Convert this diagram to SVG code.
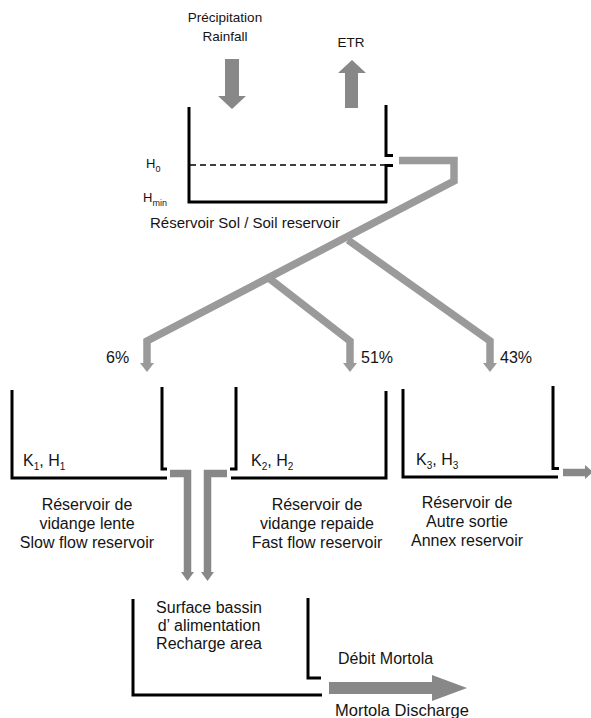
<svg xmlns="http://www.w3.org/2000/svg" width="591" height="718" viewBox="0 0 591 718">
<style>
text{font-family:"Liberation Sans",Arial,sans-serif;fill:#141414;}
.t{font-size:16px;}
.ti{font-size:15px;}
.s{font-size:13.5px;}
.h{font-size:13px;}
.sub{font-size:9px;}
.ksub{font-size:10px;}
.wall{fill:none;stroke:#000;stroke-width:3;stroke-linecap:butt;stroke-linejoin:miter;}
.flow{fill:none;stroke:#9a9a9a;stroke-width:7.5;stroke-linejoin:miter;}
.head{fill:#9a9a9a;}
.dflow{fill:none;stroke:#888;stroke-width:7.5;stroke-linejoin:miter;}
.dhead{fill:#888;}
</style>
<rect width="591" height="718" fill="#fff"/>

<g id="inputs">
<text class="s" x="225" y="22" text-anchor="middle">Précipitation</text>
<text class="s" x="225" y="41" text-anchor="middle">Rainfall</text>
<polygon class="dhead" points="225,59 239,59 239,96 246,96 232,109 218,96 225,96"/>
<text class="s" x="351" y="47" text-anchor="middle">ETR</text>
<polygon class="dhead" points="345,108 358,108 358,73 366,73 352,60 338,73 345,73"/>
</g>

<g id="soil-reservoir">
<path class="wall" d="M189,107 V202 H387"/>
<path class="wall" d="M386,105 V155.5 H393"/>
<path class="wall" d="M393,165.5 H386 V203"/>
<line x1="190" y1="165" x2="385" y2="165" stroke="#000" stroke-width="1.5" stroke-dasharray="6,4"/>
<text class="h" x="146" y="168">H<tspan class="sub" dy="4">0</tspan></text>
<text class="h" x="143" y="202">H<tspan class="sub" dy="4">min</tspan></text>
<text class="ti" x="245" y="228" text-anchor="middle">Réservoir Sol / Soil reservoir</text>
</g>

<g id="connectors">
<path class="flow" d="M399,160.5 H454 V181 L147,341 V364"/>
<polygon class="head" points="140,363 154,363 147,372"/>
<path class="flow" d="M270,279 L350,341 V364"/>
<polygon class="head" points="343,363 357,363 350,372"/>
<path class="flow" d="M348,240 L490,341 V364"/>
<polygon class="head" points="483,363 497,363 490,372"/>
<text class="t" x="106" y="363">6%</text>
<text class="t" x="361" y="363">51%</text>
<text class="t" x="500" y="363">43%</text>

<path class="dflow" d="M170,473.5 H187.5 V573"/>
<polygon class="dhead" points="181,572 194,572 187.5,581"/>
<path class="dflow" d="M227,473.5 H207.5 V573"/>
<polygon class="dhead" points="201,572 214,572 207.5,581"/>

<path class="dflow" d="M563,472.5 H586"/>
<polygon class="dhead" points="585,465 585,479 593,472"/>

<polygon class="dhead" points="329,682 432,682 432,675 467,688 432,701 432,694 329,694"/>
</g>

<g id="slow-reservoir">
<path class="wall" d="M12,390 V478 H167"/>
<path class="wall" d="M162,387 V469 H167"/>
<text class="t" x="23" y="466">K<tspan class="ksub" dy="4">1</tspan><tspan dy="-4">, H</tspan><tspan class="ksub" dy="4">1</tspan></text>
<text class="t" x="87" y="510" text-anchor="middle">Réservoir de</text>
<text class="t" x="87" y="529" text-anchor="middle">vidange lente</text>
<text class="t" x="87" y="548" text-anchor="middle">Slow flow reservoir</text>
</g>

<g id="fast-reservoir">
<path class="wall" d="M236,387 V469 H230"/>
<path class="wall" d="M231,478 H386 V391"/>
<text class="t" x="251" y="466">K<tspan class="ksub" dy="4">2</tspan><tspan dy="-4">, H</tspan><tspan class="ksub" dy="4">2</tspan></text>
<text class="t" x="317" y="510" text-anchor="middle">Réservoir de</text>
<text class="t" x="317" y="529" text-anchor="middle">vidange repaide</text>
<text class="t" x="317" y="548" text-anchor="middle">Fast flow reservoir</text>
</g>

<g id="annex-reservoir">
<path class="wall" d="M403,389 V477 H558"/>
<path class="wall" d="M553,386 V468.5 H559"/>
<text class="t" x="416" y="465">K<tspan class="ksub" dy="4">3</tspan><tspan dy="-4">, H</tspan><tspan class="ksub" dy="4">3</tspan></text>
<text class="t" x="467" y="508" text-anchor="middle">Réservoir de</text>
<text class="t" x="467" y="527" text-anchor="middle">Autre sortie</text>
<text class="t" x="467" y="546" text-anchor="middle">Annex reservoir</text>
</g>

<g id="recharge-area">
<path class="wall" d="M133,599 V695 H322"/>
<path class="wall" d="M308,598 V678 H321"/>
<text class="t" x="209" y="613" text-anchor="middle">Surface bassin</text>
<text class="t" x="209" y="631" text-anchor="middle">d’ alimentation</text>
<text class="t" x="209" y="649" text-anchor="middle">Recharge area</text>
</g>

<g id="discharge">
<text class="t" x="338" y="664">Débit Mortola</text>
<text class="t" x="335" y="716" style="font-size:16.5px">Mortola Discharge</text>
</g>
</svg>
